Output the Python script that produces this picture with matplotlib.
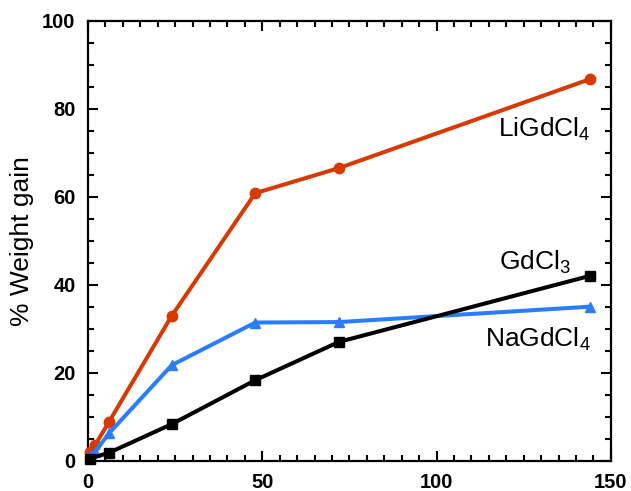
import matplotlib
matplotlib.use('Agg')
import matplotlib.pyplot as plt
from matplotlib.ticker import MultipleLocator

plt.rcParams['font.family'] = ['Liberation Sans', 'DejaVu Sans']
plt.rcParams['mathtext.fontset'] = 'custom'
plt.rcParams['mathtext.rm'] = 'Liberation Sans'
plt.rcParams['mathtext.it'] = 'Liberation Sans'

# hours vs % weight gain
li_x = [0.5, 2, 6, 24, 48, 72, 144]
li_y = [2.0, 3.5, 8.8, 32.9, 60.8, 66.5, 86.7]

na_x = [0.5, 2, 6, 24, 48, 72, 144]
na_y = [1.0, 2.0, 6.2, 21.7, 31.4, 31.5, 35.0]

gd_x = [0.5, 6, 24, 48, 72, 144]
gd_y = [0.5, 1.8, 8.3, 18.3, 27.0, 42.0]

x_ticks = [0, 50, 100, 150]
y_ticks = [0, 20, 40, 60, 80, 100]

fig = plt.figure(figsize=(6.31, 4.91), dpi=100)
ax = fig.add_axes([0.1395, 0.0617, 0.8285, 0.8963])

ax.plot(li_x, li_y, color='#d63a00', lw=2.9, marker='o', ms=7.5, clip_on=False, zorder=3)
ax.plot(na_x, na_y, color='#2a7dff', lw=2.9, marker='^', ms=7.5, clip_on=False, zorder=3)
ax.plot(gd_x, gd_y, color='black', lw=2.9, marker='s', ms=7.5, clip_on=False, zorder=3)

ax.text(117.6, 73.6, r'LiGdCl$_\mathrm{4}$', fontsize=19, ha='left', va='baseline')
ax.text(117.9, 43.3, r'GdCl$_\mathrm{3}$', fontsize=19, ha='left', va='baseline')
ax.text(113.8, 25.8, r'NaGdCl$_\mathrm{4}$', fontsize=19, ha='left', va='baseline')

ax.set_xlim(0, 150)
ax.set_ylim(0, 100)
ax.set_xticks(x_ticks)
ax.set_yticks(y_ticks)
ax.xaxis.set_minor_locator(MultipleLocator(5))
ax.yaxis.set_minor_locator(MultipleLocator(5))
ax.tick_params(which='both', direction='in', top=True, right=True, width=1.5)
ax.tick_params(which='major', length=7.5, labelsize=14.5, pad=9)
ax.tick_params(which='minor', length=4.5)
for lab in ax.get_xticklabels() + ax.get_yticklabels():
    lab.set_fontweight('bold')
for s in ax.spines.values():
    s.set_linewidth(1.6)

ax.set_ylabel('% Weight gain', fontsize=19, labelpad=6)

fig.savefig('out.png', dpi=100)
